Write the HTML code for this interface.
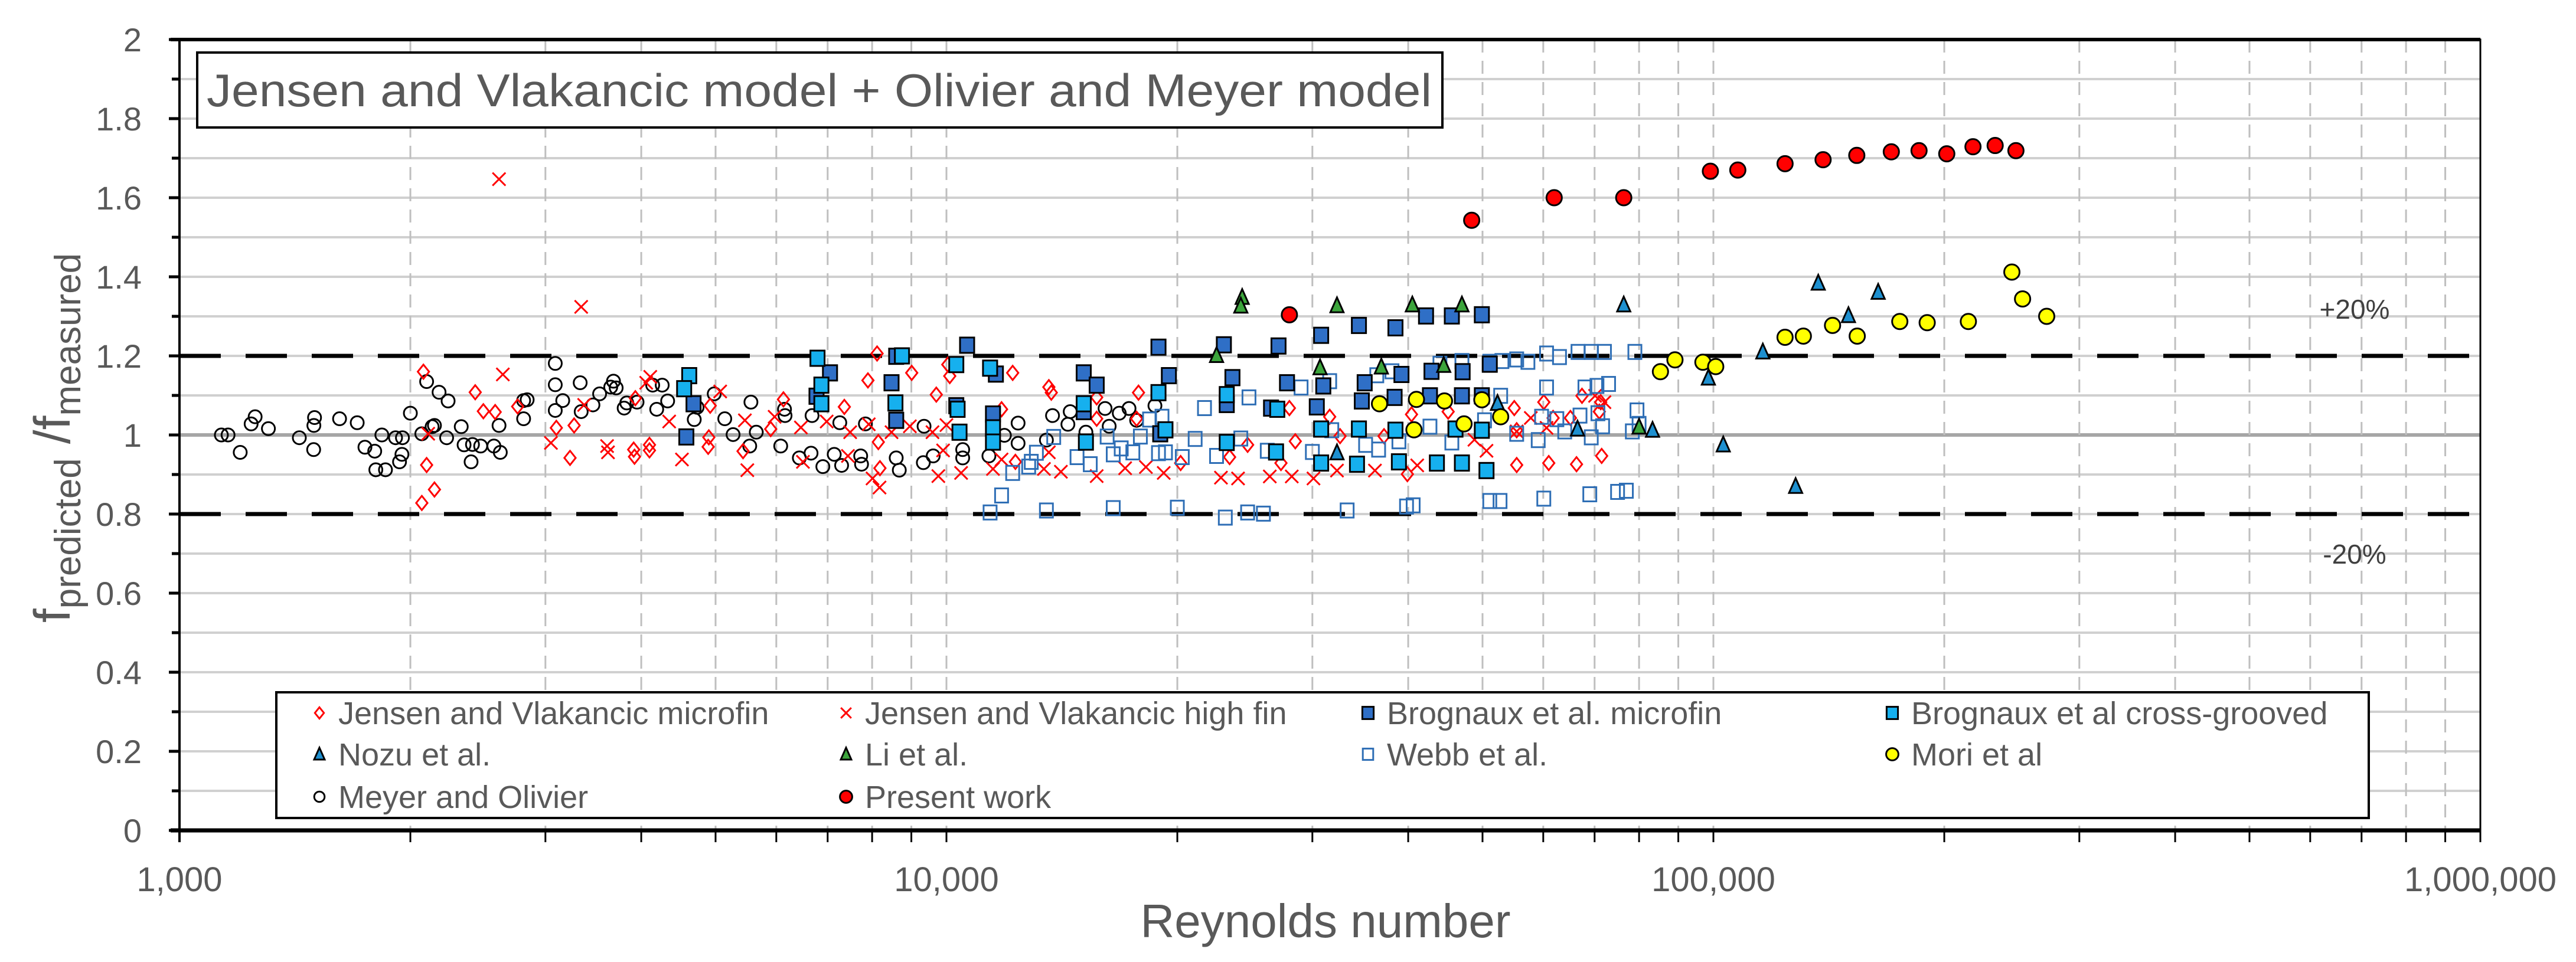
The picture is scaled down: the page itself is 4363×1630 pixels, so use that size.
<!DOCTYPE html>
<html><head><meta charset="utf-8"><title>Friction factor ratio vs Reynolds number</title>
<style>
html,body{margin:0;padding:0;background:#fff;}
svg{display:block;font-family:"Liberation Sans",sans-serif;}
</style></head>
<body>
<svg id="chart" width="4363" height="1630" viewBox="0 0 4363 1630" xmlns="http://www.w3.org/2000/svg">
<rect x="0" y="0" width="4363" height="1630" fill="#fff"/>
<g id="grid"></g>
<g id="refs"></g>
<g id="axes"></g>
<g id="marks"></g>
<g>
<rect x="334" y="89" width="2109" height="127" fill="#fff" stroke="#000" stroke-width="4"/>
<text x="350" y="180" font-size="78" fill="#595959" textLength="2075" lengthAdjust="spacingAndGlyphs">Jensen and Vlakancic model + Olivier and Meyer model</text>
</g>
<text x="3988" y="540" font-size="46" fill="#404040" text-anchor="middle">+20%</text>
<text x="3988" y="955" font-size="46" fill="#404040" text-anchor="middle">-20%</text>
<text x="2245" y="1588" font-size="80" fill="#595959" text-anchor="middle">Reynolds number</text>
<text transform="translate(118,742) rotate(-90)" text-anchor="middle" fill="#595959" font-size="86">f<tspan font-size="62" dy="18">predicted</tspan><tspan dy="-18"> /f</tspan><tspan font-size="62" dy="18">measured</tspan></text>
<g id="legend">
<rect x="468" y="1173" width="3544" height="213" fill="#fff" stroke="#000" stroke-width="4"/>
</g>
</svg>
<script>
// ---- data (Reynolds number, f_predicted/f_measured) ----
const meyerRe = [1134,1157,1200,1240,1255,1306,1433,1496,1497,1500,1617,1705,1745,1797,1803,1856,1836,1913,1953,1936,1950,2000,2070,2100,2135,2150,2180,2240,2230,2330,2350,2400,2410,2470,2570,2610,2620,2810,2810,2840,3090,3090,3090,3160,3330,3340,3460,3530,3650,3710,3800,3950,3680,3830,4140,4260,4190,4330,4730,4690,4980,5140,5270,5560,5650,5540,6080,6150,6160,6430,6680,6660,6900,7140,7300,7260,7730,7750,7840,8600,8680,9350,9330,9610,10500,10500,11360,11900,12400,12400,13500,13750,14400,14500,15200,16100,16300,16800,17300,17700,18700];
const meyerRatio = [1.0,1.0,0.956,1.028,1.046,1.016,0.993,0.963,1.024,1.044,1.041,1.031,0.969,0.959,0.912,0.912,1.0,0.993,0.993,0.932,0.951,1.055,1.003,1.135,1.021,1.024,1.108,1.086,0.993,1.021,0.975,0.932,0.976,0.972,0.972,1.024,0.956,1.041,1.087,1.089,1.181,1.127,1.062,1.087,1.132,1.059,1.076,1.104,1.121,1.119,1.068,1.083,1.136,1.081,1.126,1.126,1.065,1.086,1.07,1.039,1.104,1.041,1.001,1.083,1.007,0.972,0.972,1.065,1.049,0.942,1.049,0.954,0.92,0.951,0.923,1.031,0.947,0.926,1.028,0.942,0.911,1.022,0.93,0.947,0.963,0.942,0.947,0.999,0.979,1.03,0.987,1.049,1.027,1.059,1.007,1.067,1.022,1.055,1.067,1.037,1.074];

const jvMicroRe = [2080,2100,2150,2070,2430,2490,2580,2760,3100,3270,3230,3920,4100,3930,3910,4100,4900,4890,4920,5430,5900,6130,7360,7900,8120,8150,8190,9010,9700,10100,10040,11800,12200,13600,13700,15700,17800,17700,15700,12300,31600,40400,45100,55000,60100,67400,71300,71000,65100,61800,55400,28500,24700,27300,39900,55400,61000,66300,71500,20200,23400,32600,37200,28000];
const jvMicroRatio = [1.16,0.924,0.862,0.828,1.108,1.06,1.058,1.072,1.018,1.024,0.942,0.945,0.961,1.093,0.963,0.975,0.994,0.97,1.074,0.959,1.015,1.09,1.071,1.138,1.206,0.982,0.916,1.157,1.102,1.149,1.178,1.065,1.157,1.121,1.107,1.095,1.107,1.041,1.041,0.932,1.046,1.052,1.059,1.068,1.083,1.099,1.083,1.059,1.043,1.043,1.012,0.984,0.975,0.929,0.901,0.924,0.929,0.926,0.947,0.929,0.944,0.997,0.997,1.068];

const jvHighRe = [2610,3340,2640,3050,3620,2110,3370,4060,4110,3610,4350,4520,5070,5460,5500,5970,6460,6500,6980,7490,7440,7920,8010,8180,8480,8960,9590,9760,10000,10450,9900,11500,11800,13400,14100,15700,17100,18200,19200,13600,22800,24000,26400,28200,30100,32300,36200,41100,50600,48800,55400,57800,60600,70100,72100];
const jvHighRatio = [1.647,1.324,1.153,0.98,0.956,1.003,1.076,1.132,1.147,0.972,1.034,0.938,1.11,1.037,0.911,1.046,1.019,0.932,1.034,1.007,0.947,1.027,0.89,0.867,1.007,1.022,1.007,0.896,1.025,0.904,0.961,0.914,0.938,0.914,0.907,0.896,0.916,0.919,0.904,0.956,0.892,0.89,0.895,0.895,0.89,0.91,0.91,0.923,0.96,0.988,1.009,1.043,1.018,1.099,1.083];

const webbRe = [51100,53000,55400,57300,60600,63000,66600,69300,72100,79000,47000,44000,38100,36400,31600,29000,24800,21700,60600,68000,70500,73000,52800,79500,71700,59700,62500,67000,70700,64000,69300,78400,80000,59100,55400,50300,42700,45600,38900,35200,36600,31800,30000,26200,24200,22500,21100,20300,51100,52700,60100,69000,75000,77000,39800,40600,33300,25900,24700,23100,12200,12800,12900,13100,13800,14800,15400,16500,16900,17500,17900,18400,18900,19300,19100,16200,11800,11400,13500,16500,20000];
const webbRatio = [1.185,1.187,1.191,1.185,1.206,1.197,1.21,1.21,1.21,1.21,1.187,1.18,1.161,1.151,1.136,1.12,1.095,1.068,1.12,1.12,1.124,1.129,1.099,1.062,1.022,1.046,1.04,1.049,1.055,1.009,0.994,1.009,1.028,0.987,1.003,1.037,1.021,0.981,0.984,0.975,0.963,1.012,0.957,0.96,0.991,0.947,0.99,0.944,0.833,0.833,0.839,0.85,0.856,0.859,0.819,0.822,0.809,0.801,0.804,0.791,0.904,0.92,0.932,0.955,0.995,0.944,0.926,0.951,0.966,0.956,0.996,1.039,0.954,0.956,1.046,0.996,0.847,0.804,0.809,0.815,0.816];

const brogMicroRe = [23000,27100,30800,34500,38500,42200,45600,49900,23600,27800,31000,35100,39200,42900,47100,51100,34800,38400,42700,47000,49900,30400,26500,23200,10640,18900,7050,8480,11600,15100,15700,19500,4580,4680,6770,8600,10300,11500,15100,19000,8600];
const brogMicroRatio = [1.228,1.225,1.252,1.277,1.271,1.301,1.301,1.304,1.145,1.132,1.124,1.132,1.153,1.161,1.16,1.179,1.086,1.095,1.099,1.099,1.099,1.071,1.068,1.077,1.227,1.222,1.157,1.132,1.154,1.157,1.126,1.15,0.995,1.079,1.098,1.199,1.074,1.053,1.059,1.003,1.037];

const brogCrossRe = [6790,6870,6870,8750,8580,10300,10340,10400,11400,11500,11500,15100,15200,18900,19300,4620,4550,23200,27000,23200,26900,30800,34500,38500,46100,49900,30800,34300,38900,43600,47000,50600];
const brogCrossRatio = [1.194,1.126,1.079,1.2,1.081,1.178,1.065,1.007,1.169,1.018,0.982,1.079,0.982,1.107,1.013,1.15,1.117,1.102,1.065,0.981,0.957,1.015,1.015,1.012,1.015,1.012,0.929,0.926,0.932,0.929,0.929,0.91];

const nozuRe = [76400,116000,98500,103000,137000,150000,164000,66500,83300,52300,32300,128000];
const nozuRatio = [1.329,1.21,1.144,0.975,1.384,1.302,1.361,1.015,1.012,1.08,0.955,0.87];

const liRe = [24300,24200,32300,40500,47000,22500,30700,36900,44500,80000];
const liRatio = [1.348,1.326,1.327,1.329,1.329,1.201,1.17,1.172,1.176,1.02];

const moriRe = [85300,89100,96900,100700,124000,131000,143000,154000,175000,190000,215000,245000,253000,272000,36700,41000,44600,49900,52800,47300,40700];
const moriRatio = [1.16,1.19,1.184,1.173,1.247,1.25,1.277,1.25,1.287,1.284,1.287,1.412,1.344,1.30,1.079,1.09,1.086,1.089,1.046,1.028,1.013];

const presentRe = [28000,48400,62000,76400,99100,107600,124000,139000,153800,170600,185400,201500,218000,233000,248000];
const presentRatio = [1.304,1.543,1.6,1.6,1.667,1.67,1.686,1.696,1.707,1.716,1.719,1.711,1.729,1.732,1.719];

const yTickValues = [0,0.2,0.4,0.6,0.8,1,1.2,1.4,1.6,1.8,2];
const yTickLabels = ["0","0.2","0.4","0.6","0.8","1","1.2","1.4","1.6","1.8","2"];
const xTickValues = [1000,10000,100000,1000000];
const xTickLabels = ["1,000","10,000","100,000","1,000,000"];

// ---- axes ----
const X0 = 304, DEC = 1299, Y0 = 1407, YU = 670;
function xs(v){ return X0 + DEC*Math.log10(v/1000); }
function ys(v){ return Y0 - YU*v; }
const NS = "http://www.w3.org/2000/svg";
function mk(tag, attrs, parent){ const e=document.createElementNS(NS,tag); for(const k in attrs) e.setAttribute(k,attrs[k]); parent.appendChild(e); return e; }

const grid = document.getElementById('grid');
const axes = document.getElementById('axes');
const refs = document.getElementById('refs');
const marks = document.getElementById('marks');
const legend = document.getElementById('legend');
const L = xs(1000), R = xs(1000000), T = ys(2), B = ys(0);

for (let i=1;i<20;i++){
  const v=i/10;
  const g = mk('line',{x1:L,x2:R,y1:ys(v),y2:ys(v),stroke: i===10?'#a6a6a6':'#d0d0d0','stroke-width': i===10?6:4},grid);
  
  
}
for (let d=1000; d<1000000; d*=10){
  for (let m=1;m<=9;m++){
    const v=d*m; if (v<=1000) continue;
    const g = mk('line',{x1:xs(v),x2:xs(v),y1:T,y2:B,stroke:'#bfbfbf','stroke-width':3,'stroke-dasharray':'22 14'},grid);
    
    
  }
}
[1.2,0.8].forEach(v=>{
  const l = mk('line',{x1:L,x2:R,y1:ys(v),y2:ys(v),stroke:'#000','stroke-width':7,'stroke-dasharray':'70 42'},refs);
  
  
});
const fr = mk('rect',{x:L,y:T,width:R-L,height:B-T,fill:'none',stroke:'#000','stroke-width':3},axes);


const xa = mk('line',{x1:L-15,x2:R,y1:B,y2:B,stroke:'#000','stroke-width':7},axes);


const ya = mk('line',{x1:L,x2:L,y1:T,y2:B+20,stroke:'#000','stroke-width':4},axes);


const tb = mk('line',{x1:L-15,x2:R,y1:T,y2:T,stroke:'#000','stroke-width':6},axes);


for (let i=0;i<=20;i++){
  const v=i/10;
  const t = mk('line',{x1: i%2===0? L-18 : L-13, x2:L, y1:ys(v), y2:ys(v), stroke:'#000','stroke-width':5},axes);
  
  
}
yTickValues.forEach((v,i)=>{
  const t = mk('text',{x:240,y:ys(v)+20,'font-size':56,fill:'#595959','text-anchor':'end'},axes);
  t.textContent = yTickLabels[i];
  
  
});
for (let d=1000; d<=1000000; d*=10){
  for (let m=1;m<=9;m++){
    const v=d*m; if (v>1000000) break;
    const t = mk('line',{x1:xs(v),x2:xs(v),y1:B,y2:B+20,stroke:'#000','stroke-width':3},axes);
    
    
  }
}
xTickValues.forEach((v,i)=>{
  const t = mk('text',{x:xs(v),y:1510,'font-size':58,fill:'#595959','text-anchor':'middle'},axes);
  t.textContent = xTickLabels[i];
  
  
});

// ---- markers ----
function marker(type, cx, cy, parent, s){
  s = s||1;
  if (type==='circle') return mk('circle',{cx:cx,cy:cy,r:11*s,fill:'none',stroke:'#000','stroke-width':3},parent);
  if (type==='diamond'){ const r=12*s; return mk('polygon',{points:`${cx},${cy-r} ${cx+r*0.8},${cy} ${cx},${cy+r} ${cx-r*0.8},${cy}`,fill:'none',stroke:'#ff0000','stroke-width':3},parent); }
  if (type==='cross'){ const r=11*s; return mk('path',{d:`M${cx-r},${cy-r}L${cx+r},${cy+r}M${cx-r},${cy+r}L${cx+r},${cy-r}`,stroke:'#ff0000','stroke-width':3,fill:'none'},parent); }
  if (type==='webb') return mk('rect',{x:cx-11*s,y:cy-12*s,width:22*s,height:24*s,fill:'none',stroke:'#2e6eb5','stroke-width':3},parent);
  if (type==='brogm') return mk('rect',{x:cx-12*s,y:cy-13*s,width:24*s,height:26*s,fill:'#2f6fc6',stroke:'#000','stroke-width':3},parent);
  if (type==='brogc') return mk('rect',{x:cx-12*s,y:cy-13*s,width:24*s,height:26*s,fill:'#16b0ee',stroke:'#000','stroke-width':3},parent);
  if (type==='nozu'){ const r=14*s; return mk('polygon',{points:`${cx},${cy-r} ${cx+r*0.8},${cy+r*0.8} ${cx-r*0.8},${cy+r*0.8}`,fill:'#1e90d0',stroke:'#000','stroke-width':3},parent); }
  if (type==='li'){ const r=14*s; return mk('polygon',{points:`${cx},${cy-r} ${cx+r*0.8},${cy+r*0.8} ${cx-r*0.8},${cy+r*0.8}`,fill:'#3ca53c',stroke:'#000','stroke-width':3},parent); }
  if (type==='mori') return mk('circle',{cx:cx,cy:cy,r:13*s,fill:'#ffff00',stroke:'#000','stroke-width':3},parent);
  if (type==='present') return mk('circle',{cx:cx,cy:cy,r:13*s,fill:'#ff0000',stroke:'#000','stroke-width':3},parent);
}
const seriesList = [
  ['circle', meyerRe, meyerRatio, 'meyer-olivier-point'],
  ['diamond', jvMicroRe, jvMicroRatio, 'jv-microfin-point'],
  ['cross', jvHighRe, jvHighRatio, 'jv-highfin-point'],
  ['webb', webbRe, webbRatio, 'webb-point'],
  ['brogm', brogMicroRe, brogMicroRatio, 'brognaux-microfin-point'],
  ['brogc', brogCrossRe, brogCrossRatio, 'brognaux-crossgrooved-point'],
  ['nozu', nozuRe, nozuRatio, 'nozu-point'],
  ['li', liRe, liRatio, 'li-point'],
  ['mori', moriRe, moriRatio, 'mori-point'],
  ['present', presentRe, presentRatio, 'present-work-point']
];
seriesList.forEach(s=>{
  const g = mk('g',{},marks);
  
  
  s[1].forEach((re,i)=>{
    const el = marker(s[0], xs(re), ys(s[2][i]), g);
    
    
  });
});

// ---- legend ----
const legendTypes = ['diamond','cross','brogm','brogc','nozu','li','webb','mori','circle','present'];
const legendLabels = ['Jensen and Vlakancic microfin','Jensen and Vlakancic high fin','Brognaux et al. microfin','Brognaux et al cross-grooved','Nozu et al.','Li et al.','Webb et al.','Mori et al','Meyer and Olivier','Present work'];
const colX = [541,1433,2317,3205];
const rowY = [1208,1278,1350];
legendLabels.forEach((lab,i)=>{
  const cx = colX[i%4], cy = rowY[Math.floor(i/4)];
  const g = mk('g',{},legend);
  
  
  const m = marker(legendTypes[i], cx, cy, g, 0.8);
  
  
  const t = mk('text',{x:cx+32,y:cy+19,'font-size':54,fill:'#595959'},g);
  t.textContent = lab;
  
  
});
</script>
</body></html>
